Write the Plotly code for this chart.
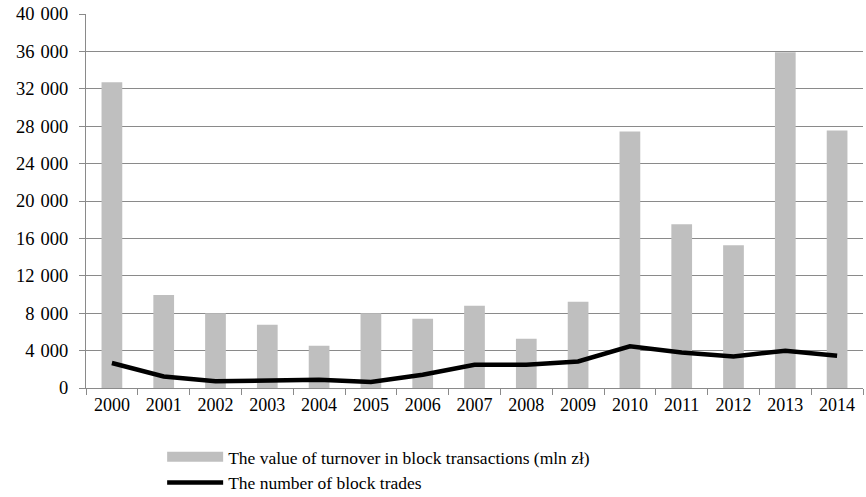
import plotly.graph_objects as go

years = [str(y) for y in range(2000, 2015)]
turnover = [32700, 9950, 8000, 6770, 4520, 7990, 7400, 8800, 5270, 9230,
            27420, 17520, 15280, 35900, 27530]
trades = [2670, 1240, 710, 780, 890, 640, 1420, 2490, 2490, 2840,
          4450, 3800, 3380, 3990, 3450]
ytick_vals = list(range(0, 40001, 4000))
ytick_text = [f"{v:,}".replace(",", "\u2004") for v in ytick_vals]

bar_name = "The value of turnover in block transactions (mln zł)"
line_name = "The number of block trades"

FONT = "Liberation Serif, Times New Roman, serif"
GRID = "#8a8a8a"
BAR = "#bfbfbf"

fig = go.Figure()
fig.add_trace(go.Bar(
    x=years, y=turnover, name=bar_name, legendgroup="bar", showlegend=False,
    marker=dict(color=BAR, line=dict(width=0)),
))
# legend key for the bars (Excel-style wide rectangle)
fig.add_trace(go.Scatter(
    x=[None], y=[None], mode="lines", name=bar_name, legendgroup="bar",
    line=dict(color=BAR, width=10), hoverinfo="skip",
))
fig.add_trace(go.Scatter(
    x=years, y=trades, mode="lines", name=line_name,
    line=dict(color="black", width=4.5),
))

fig.update_layout(
    width=866, height=497,
    margin=dict(l=86, r=3, t=14, b=109, autoexpand=False),
    paper_bgcolor="white", plot_bgcolor="white",
    font=dict(family=FONT, size=18, color="black"),
    bargap=0.6,
    showlegend=True,
    legend=dict(
        orientation="v", x=0.098, xanchor="left", y=-0.302, yanchor="bottom",
        font=dict(family=FONT, size=17.5), itemwidth=56,
        tracegroupgap=0, bgcolor="rgba(0,0,0,0)",
    ),
)
fig.update_xaxes(
    type="category", showgrid=False,
    showline=True, linecolor=GRID, linewidth=1,
    ticks="outside", tickson="boundaries", ticklen=6, tickcolor=GRID,
    tickfont=dict(family=FONT, size=18),
)
fig.update_yaxes(
    range=[0, 40000], tickvals=ytick_vals, ticktext=ytick_text,
    showgrid=True, gridcolor=GRID, gridwidth=1,
    showline=True, linecolor=GRID, linewidth=1,
    ticks="outside", ticklen=6, tickcolor=GRID,
    ticklabelstandoff=7,
    zeroline=False,
    tickfont=dict(family=FONT, size=18.5),
)

fig.write_html("out.html")
